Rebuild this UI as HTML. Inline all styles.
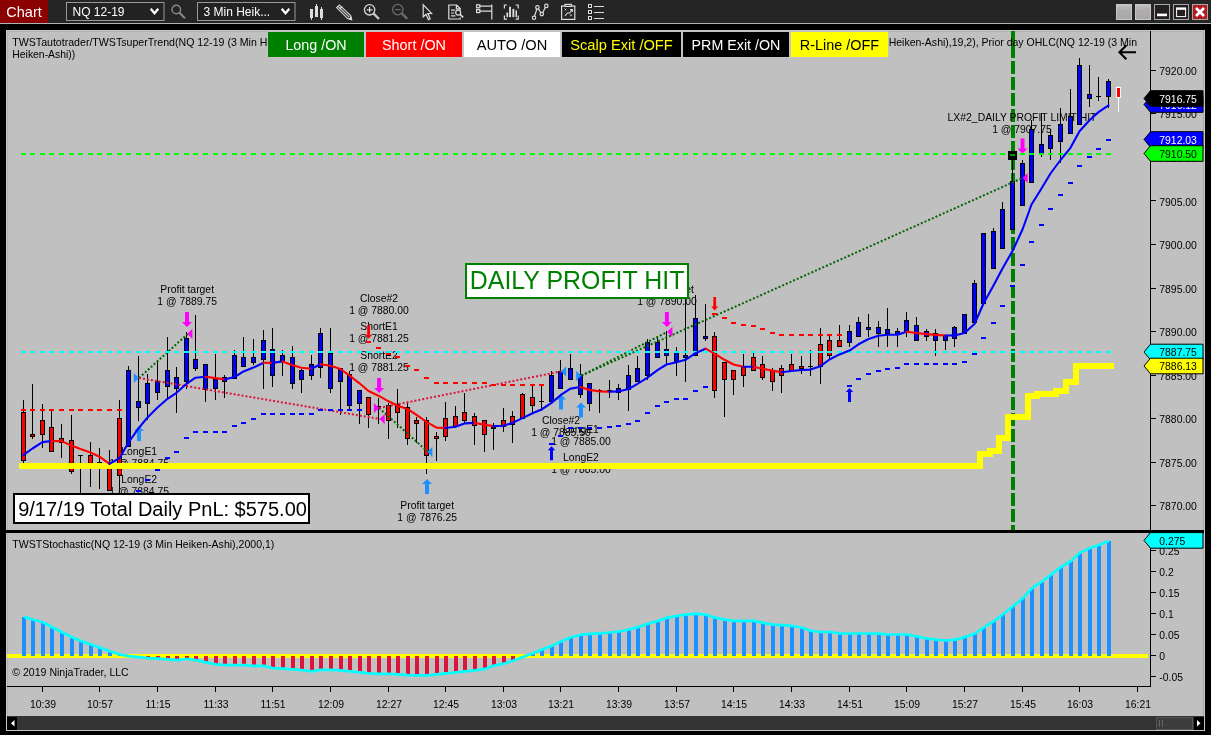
<!DOCTYPE html><html><head><meta charset="utf-8"><title>Chart</title>
<style>html,body{margin:0;padding:0;background:#000;}body{width:1211px;height:735px;overflow:hidden;font-family:"Liberation Sans",sans-serif;}svg{display:block;position:absolute;left:0;top:0;will-change:transform}text{font-family:"Liberation Sans",sans-serif;}</style></head><body>
<svg width="1211" height="735" viewBox="0 0 1211 735">
<rect x="0" y="0" width="1211" height="735" fill="#000"/>
<g shape-rendering="crispEdges">
<rect x="0" y="0" width="1211" height="23" fill="#252525"/>
<rect x="0" y="23" width="1211" height="1" fill="#b0b4b4"/>
<rect x="0" y="0" width="48" height="23" fill="#8b0000"/>
</g>
<text x="6.3" y="17" font-size="14.5" fill="#fff">Chart</text>
<rect x="66.5" y="2.5" width="97.5" height="18" fill="#222" stroke="#999" stroke-width="1"/>
<text x="72.5" y="16" font-size="12" fill="#fff">NQ 12-19</text>
<path d="M150.7 8.8 L154.5 13.3 L158.3 8.8" fill="none" stroke="#fff" stroke-width="2.2"/>
<rect x="197.5" y="2.5" width="97.5" height="18" fill="#222" stroke="#999" stroke-width="1"/>
<text x="203.5" y="16" font-size="12" fill="#fff">3 Min Heik...</text>
<path d="M281.7 8.8 L285.5 13.3 L289.3 8.8" fill="none" stroke="#fff" stroke-width="2.2"/>
<g fill="none" stroke="#8a8a8a" stroke-width="1.4"><circle cx="176.3" cy="9.5" r="4.3"/><path d="M179.5 12.7 L185 18.4" stroke-width="2"/></g>
<g fill="#dcdcdc" shape-rendering="crispEdges">
<rect x="310" y="9" width="3" height="9"/><rect x="311" y="18" width="1" height="2"/>
<rect x="315" y="6" width="3" height="11"/><rect x="316" y="4" width="1" height="2"/>
<rect x="320" y="9" width="3" height="9"/><rect x="321" y="7" width="1" height="2"/><rect x="321" y="18" width="1" height="2"/>
</g>
<g fill="none" stroke="#dcdcdc" stroke-width="1.1"><path d="M336.6 7.6 L339.4 4.9 L350.6 15.6 L351.6 19.6 L347.6 18.6 Z"/><path d="M338 6.3 L349.2 17.2 M339.5 9 L342.2 6.5"/><path d="M349.2 18.9 L351.6 19.6 L351 17.2 Z" fill="#dcdcdc"/></g>
<g fill="none" stroke="#dcdcdc" stroke-width="1.3"><circle cx="369.6" cy="9.8" r="5.2"/><path d="M366.8 9.8 H372.4 M369.6 7 V12.6" stroke-width="1.2"/><path d="M373.6 13.6 L379 19" stroke-width="2.4" stroke="#c8c8c8"/></g>
<g fill="none" stroke="#6a6a6a" stroke-width="1.3"><circle cx="397.8" cy="9.6" r="5.2"/><path d="M395 9.6 H400.6" stroke-width="1.2"/><path d="M401.8 13.4 L407.2 18.8" stroke-width="2.4"/></g>
<path d="M423.2 4.8 L423.2 16.8 L426 14.2 L428.4 19.6 L430.2 18.8 L427.8 13.6 L431.6 13.4 Z" fill="#222" stroke="#dcdcdc" stroke-width="1.2" stroke-linejoin="miter"/>
<g fill="none" stroke="#dcdcdc" stroke-width="1.2"><path d="M460.2 10 V8.6 L456.6 5 H448.8 V19 H460.2 V17.4 M456.4 5.2 V8.8 H460"/><path d="M451 10.2 H455 M451 13 H454.2 M451 15.8 H455.4"/><circle cx="458.2" cy="12.6" r="2.5"/><path d="M460 14.4 L463.2 17.4" stroke-width="1.6"/></g>
<g fill="none" stroke="#dcdcdc" stroke-width="1.2"><rect x="476.6" y="4.8" width="3.2" height="3"/><rect x="476.6" y="9.6" width="3.2" height="3"/><path d="M479.8 6.2 H491.8 M479.8 11.2 H491.8 M491.8 4.6 V19.6"/></g>
<g fill="none" stroke="#dcdcdc" stroke-width="1.2"><path d="M507 5 H504.4 V8.6 M504.4 15.6 V19.2 H507 M515.6 5 H518.2 V8.6 M518.2 15.6 V19.2 H515.6"/></g>
<g fill="#dcdcdc"><rect x="506.4" y="12.5" width="1.7" height="4.6"/><rect x="509.1" y="6.7" width="1.9" height="10.4"/><rect x="512.4" y="8.9" width="1.9" height="8.2"/><rect x="515.5" y="10.4" width="1.5" height="6.7"/></g>
<g fill="#222" stroke="#dcdcdc" stroke-width="1.2"><path d="M534 17.8 L537.4 7.4 L541.8 14.1 L546.3 5.9" fill="none"/><circle cx="534" cy="17.8" r="1.7"/><circle cx="537.4" cy="7.4" r="1.7"/><circle cx="541.8" cy="14.1" r="1.7"/><circle cx="546.3" cy="5.9" r="1.7"/></g>
<g fill="none" stroke="#dcdcdc" stroke-width="1.2"><rect x="561.6" y="6" width="13.2" height="13.4"/><rect x="565" y="4.4" width="6.4" height="2" fill="#222"/><path d="M565 16 L567.4 13 H569.6 L572 10 M570 9.6 H572.4 V12" stroke-width="1.1"/><path d="M564.6 8.6 L566.4 10.4 M566.4 8.6 L564.6 10.4 M570 14.4 L571.8 16.2 M571.8 14.4 L570 16.2" stroke-width="0.8"/></g>
<g fill="none" stroke="#dcdcdc" stroke-width="1" shape-rendering="crispEdges"><rect x="588.5" y="4.5" width="3" height="3"/><rect x="588.5" y="10.5" width="3" height="3"/><rect x="588.5" y="16.5" width="3" height="3"/></g>
<g fill="#dcdcdc" shape-rendering="crispEdges"><rect x="594" y="6" width="10.4" height="1"/><rect x="594" y="12" width="10.4" height="1"/><rect x="594" y="18" width="10.4" height="1"/></g>
<defs><linearGradient id="gb" x1="0" y1="0" x2="0" y2="1"><stop offset="0" stop-color="#c4c2c2"/><stop offset="0.35" stop-color="#aeacac"/><stop offset="1" stop-color="#aaa8a8"/></linearGradient></defs>
<rect x="1116.5" y="4.5" width="15" height="15" fill="url(#gb)" stroke="#c6c6c6"/>
<rect x="1135.5" y="4.5" width="15" height="15" fill="url(#gb)" stroke="#c6c6c6"/>
<rect x="1154.5" y="4.5" width="15" height="15" fill="#231f20" stroke="#a8a8a8"/><rect x="1157" y="13.6" width="10" height="2.6" fill="#fff"/>
<rect x="1173.5" y="4.5" width="15" height="15" fill="#231f20" stroke="#a8a8a8"/><rect x="1176.6" y="8.6" width="9" height="8" fill="none" stroke="#fff" stroke-width="1"/><rect x="1176.1" y="7.4" width="10" height="2.4" fill="#fff"/>
<rect x="1192.5" y="4.5" width="15" height="15" fill="#b01c22" stroke="#a8a8a8"/><path d="M1196 8 L1204 16 M1204 8 L1196 16" stroke="#fff" stroke-width="2.8"/>
<g shape-rendering="crispEdges">
<rect x="6" y="30" width="1199" height="701" fill="#c0c0c0"/>
<rect x="6" y="30" width="1199" height="1" fill="#c4c4c4"/><rect x="7" y="31" width="1197" height="1" fill="#b2b2b2"/>
<rect x="6" y="30" width="1" height="701" fill="#cacaca"/><rect x="7" y="31" width="1" height="699" fill="#b0b0b0"/>
<rect x="1203" y="31" width="1" height="699" fill="#aaaaaa"/><rect x="1204" y="30" width="1" height="701" fill="#c8c8c8"/>
<rect x="6" y="730" width="1199" height="1" fill="#c8c8c8"/>
<rect x="6" y="530" width="1198" height="3" fill="#000"/>
</g>
<g shape-rendering="crispEdges"><rect x="1011" y="31" width="4" height="27" fill="#008000"/>
<rect x="1011" y="61.2" width="4" height="12.5" fill="#008000"/>
<rect x="1011" y="77.2" width="4" height="12.5" fill="#008000"/>
<rect x="1011" y="93.2" width="4" height="12.5" fill="#008000"/>
<rect x="1011" y="109.2" width="4" height="12.5" fill="#008000"/>
<rect x="1011" y="125.2" width="4" height="12.5" fill="#008000"/>
<rect x="1011" y="141.2" width="4" height="12.5" fill="#008000"/>
<rect x="1011" y="157.2" width="4" height="12.5" fill="#008000"/>
<rect x="1011" y="173.2" width="4" height="12.5" fill="#008000"/>
<rect x="1011" y="189.2" width="4" height="12.5" fill="#008000"/>
<rect x="1011" y="205.2" width="4" height="12.5" fill="#008000"/>
<rect x="1011" y="221.2" width="4" height="12.5" fill="#008000"/>
<rect x="1011" y="237.2" width="4" height="12.5" fill="#008000"/>
<rect x="1011" y="253.2" width="4" height="12.5" fill="#008000"/>
<rect x="1011" y="269.2" width="4" height="12.5" fill="#008000"/>
<rect x="1011" y="285.2" width="4" height="12.5" fill="#008000"/>
<rect x="1011" y="301.2" width="4" height="12.5" fill="#008000"/>
<rect x="1011" y="317.2" width="4" height="12.5" fill="#008000"/>
<rect x="1011" y="333.2" width="4" height="12.5" fill="#008000"/>
<rect x="1011" y="349.2" width="4" height="12.5" fill="#008000"/>
<rect x="1011" y="365.2" width="4" height="12.5" fill="#008000"/>
<rect x="1011" y="381.2" width="4" height="12.5" fill="#008000"/>
<rect x="1011" y="397.2" width="4" height="12.5" fill="#008000"/>
<rect x="1011" y="413.2" width="4" height="12.5" fill="#008000"/>
<rect x="1011" y="429.2" width="4" height="12.5" fill="#008000"/>
<rect x="1011" y="445.2" width="4" height="12.5" fill="#008000"/>
<rect x="1011" y="461.2" width="4" height="12.5" fill="#008000"/>
<rect x="1011" y="477.2" width="4" height="12.5" fill="#008000"/>
<rect x="1011" y="493.2" width="4" height="12.5" fill="#008000"/>
<rect x="1011" y="509.2" width="4" height="12.5" fill="#008000"/>
<rect x="1011" y="525.2" width="4" height="4.8" fill="#008000"/>
</g>
<text x="12.3" y="46.3" font-size="10.6" fill="#000">TWSTautotrader/TWSTsuperTrend(NQ 12-19 (3 Min Heiken-Ashi),19,2)</text>
<text x="1137" y="46.3" font-size="10.53" text-anchor="end" fill="#000">Heiken-Ashi),19,2), Prior day OHLC(NQ 12-19 (3 Min</text>
<text x="12.3" y="58.2" font-size="10.4" fill="#000">Heiken-Ashi))</text>
<text x="187.2" y="292.8" font-size="10.4" text-anchor="middle" fill="#000">Profit target</text>
<text x="187.2" y="304.7" font-size="10.4" text-anchor="middle" fill="#000">1 @ 7889.75</text>
<text x="379" y="301.8" font-size="10.4" text-anchor="middle" fill="#000">Close#2</text>
<text x="379" y="313.7" font-size="10.4" text-anchor="middle" fill="#000">1 @ 7880.00</text>
<text x="379" y="329.6" font-size="10.4" text-anchor="middle" fill="#000">ShortE1</text>
<text x="379" y="341.5" font-size="10.4" text-anchor="middle" fill="#000">1 @ 7881.25</text>
<text x="379" y="358.7" font-size="10.4" text-anchor="middle" fill="#000">ShortE2</text>
<text x="379" y="370.6" font-size="10.4" text-anchor="middle" fill="#000">1 @ 7881.25</text>
<text x="139.2" y="455.4" font-size="10.4" text-anchor="middle" fill="#000">LongE1</text>
<text x="139.2" y="467.3" font-size="10.4" text-anchor="middle" fill="#000">1 @ 7884.75</text>
<text x="139.2" y="483.4" font-size="10.4" text-anchor="middle" fill="#000">LongE2</text>
<text x="139.2" y="495.3" font-size="10.4" text-anchor="middle" fill="#000">1 @ 7884.75</text>
<text x="427.2" y="508.6" font-size="10.4" text-anchor="middle" fill="#000">Profit target</text>
<text x="427.2" y="520.5" font-size="10.4" text-anchor="middle" fill="#000">1 @ 7876.25</text>
<text x="561" y="424.4" font-size="10.4" text-anchor="middle" fill="#000">Close#2</text>
<text x="561" y="436.3" font-size="10.4" text-anchor="middle" fill="#000">1 @ 7885.50</text>
<text x="581" y="432.6" font-size="10.4" text-anchor="middle" fill="#000">LongE1</text>
<text x="581" y="444.5" font-size="10.4" text-anchor="middle" fill="#000">1 @ 7885.00</text>
<text x="581" y="461" font-size="10.4" text-anchor="middle" fill="#000">LongE2</text>
<text x="581" y="472.9" font-size="10.4" text-anchor="middle" fill="#000">1 @ 7885.00</text>
<text x="667" y="293.2" font-size="10.4" text-anchor="middle" fill="#000">Profit target</text>
<text x="667" y="305.1" font-size="10.4" text-anchor="middle" fill="#000">1 @ 7890.00</text>
<text x="1022" y="121.2" font-size="10.4" text-anchor="middle" fill="#000">LX#2_DAILY PROFIT LIMIT HIT</text>
<text x="1022" y="133.1" font-size="10.4" text-anchor="middle" fill="#000">1 @ 7907.75</text>
<g shape-rendering="crispEdges">
<rect x="23" y="400" width="1" height="63" fill="#000"/>
<rect x="21" y="412" width="5" height="49" fill="#000"/>
<rect x="22" y="413" width="3" height="47" fill="#ff0000"/>
<rect x="32" y="384" width="1" height="55" fill="#000"/>
<rect x="30" y="434" width="5" height="3" fill="#000"/>
<rect x="31" y="435" width="3" height="1" fill="#ff0000"/>
<rect x="42" y="404" width="1" height="44" fill="#000"/>
<rect x="40" y="420" width="5" height="15" fill="#000"/>
<rect x="41" y="421" width="3" height="13" fill="#ff0000"/>
<rect x="51" y="410" width="1" height="42" fill="#000"/>
<rect x="49" y="427" width="5" height="25" fill="#000"/>
<rect x="50" y="428" width="3" height="23" fill="#ff0000"/>
<rect x="61" y="424" width="1" height="34" fill="#000"/>
<rect x="59" y="438" width="5" height="5" fill="#000"/>
<rect x="60" y="439" width="3" height="3" fill="#ff0000"/>
<rect x="71" y="415" width="1" height="59" fill="#000"/>
<rect x="69" y="440" width="5" height="32" fill="#000"/>
<rect x="70" y="441" width="3" height="30" fill="#ff0000"/>
<rect x="80" y="455" width="1" height="42" fill="#000"/>
<rect x="78" y="455" width="5" height="1" fill="#000"/>
<rect x="90" y="442" width="1" height="45" fill="#000"/>
<rect x="88" y="455" width="5" height="11" fill="#000"/>
<rect x="89" y="456" width="3" height="9" fill="#ff0000"/>
<rect x="99" y="448" width="1" height="41" fill="#000"/>
<rect x="97" y="462" width="5" height="2" fill="#000"/>
<rect x="109" y="450" width="1" height="41" fill="#000"/>
<rect x="107" y="463" width="5" height="28" fill="#000"/>
<rect x="108" y="464" width="3" height="26" fill="#ff0000"/>
<rect x="119" y="400" width="1" height="95" fill="#000"/>
<rect x="117" y="418" width="5" height="58" fill="#000"/>
<rect x="118" y="419" width="3" height="56" fill="#ff0000"/>
<rect x="128" y="366" width="1" height="81" fill="#000"/>
<rect x="126" y="370" width="5" height="77" fill="#000"/>
<rect x="127" y="371" width="3" height="75" fill="#0000ff"/>
<rect x="138" y="356" width="1" height="65" fill="#000"/>
<rect x="136" y="401" width="5" height="7" fill="#000"/>
<rect x="137" y="402" width="3" height="5" fill="#0000ff"/>
<rect x="147" y="374" width="1" height="46" fill="#000"/>
<rect x="145" y="383" width="5" height="21" fill="#000"/>
<rect x="146" y="384" width="3" height="19" fill="#0000ff"/>
<rect x="157" y="360" width="1" height="40" fill="#000"/>
<rect x="155" y="381" width="5" height="12" fill="#000"/>
<rect x="156" y="382" width="3" height="10" fill="#0000ff"/>
<rect x="167" y="337" width="1" height="62" fill="#000"/>
<rect x="165" y="370" width="5" height="17" fill="#000"/>
<rect x="166" y="371" width="3" height="15" fill="#0000ff"/>
<rect x="176" y="367" width="1" height="46" fill="#000"/>
<rect x="174" y="377" width="5" height="12" fill="#000"/>
<rect x="175" y="378" width="3" height="10" fill="#0000ff"/>
<rect x="186" y="332" width="1" height="57" fill="#000"/>
<rect x="184" y="338" width="5" height="44" fill="#000"/>
<rect x="185" y="339" width="3" height="42" fill="#0000ff"/>
<rect x="195" y="315" width="1" height="56" fill="#000"/>
<rect x="193" y="359" width="5" height="10" fill="#000"/>
<rect x="194" y="360" width="3" height="8" fill="#0000ff"/>
<rect x="205" y="364" width="1" height="38" fill="#000"/>
<rect x="203" y="364" width="5" height="26" fill="#000"/>
<rect x="204" y="365" width="3" height="24" fill="#0000ff"/>
<rect x="215" y="354" width="1" height="46" fill="#000"/>
<rect x="213" y="379" width="5" height="10" fill="#000"/>
<rect x="214" y="380" width="3" height="8" fill="#0000ff"/>
<rect x="224" y="375" width="1" height="23" fill="#000"/>
<rect x="222" y="377" width="5" height="5" fill="#000"/>
<rect x="223" y="378" width="3" height="3" fill="#0000ff"/>
<rect x="234" y="350" width="1" height="29" fill="#000"/>
<rect x="232" y="355" width="5" height="24" fill="#000"/>
<rect x="233" y="356" width="3" height="22" fill="#0000ff"/>
<rect x="243" y="337" width="1" height="30" fill="#000"/>
<rect x="241" y="357" width="5" height="10" fill="#000"/>
<rect x="242" y="358" width="3" height="8" fill="#0000ff"/>
<rect x="253" y="339" width="1" height="26" fill="#000"/>
<rect x="251" y="357" width="5" height="6" fill="#000"/>
<rect x="252" y="358" width="3" height="4" fill="#0000ff"/>
<rect x="263" y="330" width="1" height="59" fill="#000"/>
<rect x="261" y="340" width="5" height="20" fill="#000"/>
<rect x="262" y="341" width="3" height="18" fill="#0000ff"/>
<rect x="272" y="328" width="1" height="59" fill="#000"/>
<rect x="270" y="349" width="5" height="27" fill="#000"/>
<rect x="271" y="350" width="3" height="25" fill="#0000ff"/>
<rect x="282" y="350" width="1" height="26" fill="#000"/>
<rect x="280" y="355" width="5" height="7" fill="#000"/>
<rect x="281" y="356" width="3" height="5" fill="#0000ff"/>
<rect x="292" y="346" width="1" height="43" fill="#000"/>
<rect x="290" y="357" width="5" height="27" fill="#000"/>
<rect x="291" y="358" width="3" height="25" fill="#0000ff"/>
<rect x="301" y="369" width="1" height="24" fill="#000"/>
<rect x="299" y="370" width="5" height="10" fill="#000"/>
<rect x="300" y="371" width="3" height="8" fill="#0000ff"/>
<rect x="311" y="355" width="1" height="25" fill="#000"/>
<rect x="309" y="364" width="5" height="12" fill="#000"/>
<rect x="310" y="365" width="3" height="10" fill="#0000ff"/>
<rect x="320" y="328" width="1" height="50" fill="#000"/>
<rect x="318" y="333" width="5" height="35" fill="#000"/>
<rect x="319" y="334" width="3" height="33" fill="#0000ff"/>
<rect x="330" y="328" width="1" height="65" fill="#000"/>
<rect x="328" y="353" width="5" height="36" fill="#000"/>
<rect x="329" y="354" width="3" height="34" fill="#0000ff"/>
<rect x="340" y="368" width="1" height="47" fill="#000"/>
<rect x="338" y="368" width="5" height="14" fill="#000"/>
<rect x="339" y="369" width="3" height="12" fill="#0000ff"/>
<rect x="349" y="371" width="1" height="38" fill="#000"/>
<rect x="347" y="374" width="5" height="32" fill="#000"/>
<rect x="348" y="375" width="3" height="30" fill="#0000ff"/>
<rect x="359" y="390" width="1" height="34" fill="#000"/>
<rect x="357" y="390" width="5" height="14" fill="#000"/>
<rect x="358" y="391" width="3" height="12" fill="#0000ff"/>
<rect x="368" y="397" width="1" height="31" fill="#000"/>
<rect x="366" y="397" width="5" height="18" fill="#000"/>
<rect x="367" y="398" width="3" height="16" fill="#ff0000"/>
<rect x="378" y="398" width="1" height="26" fill="#000"/>
<rect x="376" y="406" width="5" height="1" fill="#000"/>
<rect x="388" y="403" width="1" height="36" fill="#000"/>
<rect x="386" y="405" width="5" height="16" fill="#000"/>
<rect x="387" y="406" width="3" height="14" fill="#ff0000"/>
<rect x="397" y="389" width="1" height="39" fill="#000"/>
<rect x="395" y="404" width="5" height="9" fill="#000"/>
<rect x="396" y="405" width="3" height="7" fill="#ff0000"/>
<rect x="407" y="402" width="1" height="43" fill="#000"/>
<rect x="405" y="407" width="5" height="32" fill="#000"/>
<rect x="406" y="408" width="3" height="30" fill="#ff0000"/>
<rect x="416" y="417" width="1" height="26" fill="#000"/>
<rect x="414" y="420" width="5" height="4" fill="#000"/>
<rect x="415" y="421" width="3" height="2" fill="#ff0000"/>
<rect x="426" y="417" width="1" height="57" fill="#000"/>
<rect x="424" y="420" width="5" height="36" fill="#000"/>
<rect x="425" y="421" width="3" height="34" fill="#ff0000"/>
<rect x="436" y="432" width="1" height="29" fill="#000"/>
<rect x="434" y="436" width="5" height="3" fill="#000"/>
<rect x="435" y="437" width="3" height="1" fill="#ff0000"/>
<rect x="445" y="402" width="1" height="39" fill="#000"/>
<rect x="443" y="418" width="5" height="19" fill="#000"/>
<rect x="444" y="419" width="3" height="17" fill="#ff0000"/>
<rect x="455" y="406" width="1" height="22" fill="#000"/>
<rect x="453" y="416" width="5" height="11" fill="#000"/>
<rect x="454" y="417" width="3" height="9" fill="#ff0000"/>
<rect x="464" y="393" width="1" height="31" fill="#000"/>
<rect x="462" y="412" width="5" height="9" fill="#000"/>
<rect x="463" y="413" width="3" height="7" fill="#ff0000"/>
<rect x="474" y="413" width="1" height="32" fill="#000"/>
<rect x="472" y="416" width="5" height="10" fill="#000"/>
<rect x="473" y="417" width="3" height="8" fill="#ff0000"/>
<rect x="484" y="420" width="1" height="32" fill="#000"/>
<rect x="482" y="420" width="5" height="15" fill="#000"/>
<rect x="483" y="421" width="3" height="13" fill="#ff0000"/>
<rect x="493" y="423" width="1" height="27" fill="#000"/>
<rect x="491" y="427" width="5" height="2" fill="#000"/>
<rect x="503" y="408" width="1" height="24" fill="#000"/>
<rect x="501" y="420" width="5" height="7" fill="#000"/>
<rect x="502" y="421" width="3" height="5" fill="#ff0000"/>
<rect x="512" y="411" width="1" height="32" fill="#000"/>
<rect x="510" y="416" width="5" height="9" fill="#000"/>
<rect x="511" y="417" width="3" height="7" fill="#ff0000"/>
<rect x="522" y="393" width="1" height="26" fill="#000"/>
<rect x="520" y="394" width="5" height="25" fill="#000"/>
<rect x="521" y="395" width="3" height="23" fill="#ff0000"/>
<rect x="532" y="385" width="1" height="29" fill="#000"/>
<rect x="530" y="397" width="5" height="9" fill="#000"/>
<rect x="531" y="398" width="3" height="7" fill="#ff0000"/>
<rect x="541" y="385" width="1" height="26" fill="#000"/>
<rect x="539" y="401" width="5" height="1" fill="#000"/>
<rect x="551" y="371" width="1" height="31" fill="#000"/>
<rect x="549" y="375" width="5" height="27" fill="#000"/>
<rect x="550" y="376" width="3" height="25" fill="#0000ff"/>
<rect x="560" y="360" width="1" height="29" fill="#000"/>
<rect x="558" y="371" width="5" height="18" fill="#000"/>
<rect x="559" y="372" width="3" height="16" fill="#0000ff"/>
<rect x="570" y="354" width="1" height="26" fill="#000"/>
<rect x="568" y="368" width="5" height="12" fill="#000"/>
<rect x="569" y="369" width="3" height="10" fill="#0000ff"/>
<rect x="580" y="364" width="1" height="34" fill="#000"/>
<rect x="578" y="374" width="5" height="21" fill="#000"/>
<rect x="579" y="375" width="3" height="19" fill="#0000ff"/>
<rect x="589" y="383" width="1" height="28" fill="#000"/>
<rect x="587" y="383" width="5" height="21" fill="#000"/>
<rect x="588" y="384" width="3" height="19" fill="#0000ff"/>
<rect x="599" y="389" width="1" height="24" fill="#000"/>
<rect x="597" y="390" width="5" height="1" fill="#000"/>
<rect x="609" y="380" width="1" height="18" fill="#000"/>
<rect x="607" y="390" width="5" height="1" fill="#000"/>
<rect x="618" y="384" width="1" height="16" fill="#000"/>
<rect x="616" y="388" width="5" height="5" fill="#000"/>
<rect x="617" y="389" width="3" height="3" fill="#0000ff"/>
<rect x="628" y="365" width="1" height="46" fill="#000"/>
<rect x="626" y="375" width="5" height="15" fill="#000"/>
<rect x="627" y="376" width="3" height="13" fill="#0000ff"/>
<rect x="637" y="356" width="1" height="26" fill="#000"/>
<rect x="635" y="368" width="5" height="14" fill="#000"/>
<rect x="636" y="369" width="3" height="12" fill="#0000ff"/>
<rect x="647" y="339" width="1" height="41" fill="#000"/>
<rect x="645" y="342" width="5" height="34" fill="#000"/>
<rect x="646" y="343" width="3" height="32" fill="#0000ff"/>
<rect x="657" y="337" width="1" height="21" fill="#000"/>
<rect x="655" y="342" width="5" height="16" fill="#000"/>
<rect x="656" y="343" width="3" height="14" fill="#0000ff"/>
<rect x="666" y="331" width="1" height="33" fill="#000"/>
<rect x="664" y="349" width="5" height="7" fill="#000"/>
<rect x="665" y="350" width="3" height="5" fill="#0000ff"/>
<rect x="676" y="347" width="1" height="29" fill="#000"/>
<rect x="674" y="352" width="5" height="10" fill="#000"/>
<rect x="675" y="353" width="3" height="8" fill="#0000ff"/>
<rect x="685" y="295" width="1" height="87" fill="#000"/>
<rect x="683" y="355" width="5" height="3" fill="#000"/>
<rect x="684" y="356" width="3" height="1" fill="#0000ff"/>
<rect x="695" y="295" width="1" height="61" fill="#000"/>
<rect x="693" y="318" width="5" height="38" fill="#000"/>
<rect x="694" y="319" width="3" height="36" fill="#0000ff"/>
<rect x="705" y="304" width="1" height="37" fill="#000"/>
<rect x="703" y="336" width="5" height="3" fill="#000"/>
<rect x="704" y="337" width="3" height="1" fill="#0000ff"/>
<rect x="714" y="332" width="1" height="66" fill="#000"/>
<rect x="712" y="336" width="5" height="55" fill="#000"/>
<rect x="713" y="337" width="3" height="53" fill="#ff0000"/>
<rect x="724" y="362" width="1" height="55" fill="#000"/>
<rect x="722" y="362" width="5" height="18" fill="#000"/>
<rect x="723" y="363" width="3" height="16" fill="#ff0000"/>
<rect x="733" y="370" width="1" height="25" fill="#000"/>
<rect x="731" y="370" width="5" height="10" fill="#000"/>
<rect x="732" y="371" width="3" height="8" fill="#ff0000"/>
<rect x="743" y="354" width="1" height="33" fill="#000"/>
<rect x="741" y="366" width="5" height="10" fill="#000"/>
<rect x="742" y="367" width="3" height="8" fill="#ff0000"/>
<rect x="753" y="353" width="1" height="18" fill="#000"/>
<rect x="751" y="357" width="5" height="14" fill="#000"/>
<rect x="752" y="358" width="3" height="12" fill="#ff0000"/>
<rect x="762" y="356" width="1" height="24" fill="#000"/>
<rect x="760" y="364" width="5" height="14" fill="#000"/>
<rect x="761" y="365" width="3" height="12" fill="#ff0000"/>
<rect x="772" y="368" width="1" height="23" fill="#000"/>
<rect x="770" y="370" width="5" height="12" fill="#000"/>
<rect x="771" y="371" width="3" height="10" fill="#ff0000"/>
<rect x="781" y="365" width="1" height="28" fill="#000"/>
<rect x="779" y="368" width="5" height="8" fill="#000"/>
<rect x="780" y="369" width="3" height="6" fill="#ff0000"/>
<rect x="791" y="354" width="1" height="17" fill="#000"/>
<rect x="789" y="364" width="5" height="7" fill="#000"/>
<rect x="790" y="365" width="3" height="5" fill="#ff0000"/>
<rect x="801" y="356" width="1" height="18" fill="#000"/>
<rect x="799" y="366" width="5" height="3" fill="#000"/>
<rect x="800" y="367" width="3" height="1" fill="#ff0000"/>
<rect x="810" y="350" width="1" height="26" fill="#000"/>
<rect x="808" y="366" width="5" height="1" fill="#000"/>
<rect x="820" y="328" width="1" height="56" fill="#000"/>
<rect x="818" y="344" width="5" height="23" fill="#000"/>
<rect x="819" y="345" width="3" height="21" fill="#ff0000"/>
<rect x="829" y="335" width="1" height="24" fill="#000"/>
<rect x="827" y="340" width="5" height="16" fill="#000"/>
<rect x="828" y="341" width="3" height="14" fill="#ff0000"/>
<rect x="839" y="325" width="1" height="22" fill="#000"/>
<rect x="837" y="340" width="5" height="7" fill="#000"/>
<rect x="838" y="341" width="3" height="5" fill="#ff0000"/>
<rect x="849" y="325" width="1" height="22" fill="#000"/>
<rect x="847" y="331" width="5" height="12" fill="#000"/>
<rect x="848" y="332" width="3" height="10" fill="#0000ff"/>
<rect x="858" y="317" width="1" height="20" fill="#000"/>
<rect x="856" y="322" width="5" height="15" fill="#000"/>
<rect x="857" y="323" width="3" height="13" fill="#0000ff"/>
<rect x="868" y="314" width="1" height="23" fill="#000"/>
<rect x="866" y="327" width="5" height="3" fill="#000"/>
<rect x="867" y="328" width="3" height="1" fill="#0000ff"/>
<rect x="878" y="321" width="1" height="26" fill="#000"/>
<rect x="876" y="327" width="5" height="7" fill="#000"/>
<rect x="877" y="328" width="3" height="5" fill="#0000ff"/>
<rect x="887" y="308" width="1" height="39" fill="#000"/>
<rect x="885" y="329" width="5" height="5" fill="#000"/>
<rect x="886" y="330" width="3" height="3" fill="#0000ff"/>
<rect x="897" y="328" width="1" height="19" fill="#000"/>
<rect x="895" y="331" width="5" height="4" fill="#000"/>
<rect x="896" y="332" width="3" height="2" fill="#0000ff"/>
<rect x="906" y="312" width="1" height="25" fill="#000"/>
<rect x="904" y="320" width="5" height="12" fill="#000"/>
<rect x="905" y="321" width="3" height="10" fill="#0000ff"/>
<rect x="916" y="317" width="1" height="24" fill="#000"/>
<rect x="914" y="325" width="5" height="16" fill="#000"/>
<rect x="915" y="326" width="3" height="14" fill="#0000ff"/>
<rect x="926" y="329" width="1" height="12" fill="#000"/>
<rect x="924" y="331" width="5" height="6" fill="#000"/>
<rect x="925" y="332" width="3" height="4" fill="#0000ff"/>
<rect x="935" y="329" width="1" height="27" fill="#000"/>
<rect x="933" y="333" width="5" height="8" fill="#000"/>
<rect x="934" y="334" width="3" height="6" fill="#0000ff"/>
<rect x="945" y="335" width="1" height="15" fill="#000"/>
<rect x="943" y="335" width="5" height="6" fill="#000"/>
<rect x="944" y="336" width="3" height="4" fill="#0000ff"/>
<rect x="954" y="326" width="1" height="21" fill="#000"/>
<rect x="952" y="327" width="5" height="12" fill="#000"/>
<rect x="953" y="328" width="3" height="10" fill="#0000ff"/>
<rect x="964" y="314" width="1" height="20" fill="#000"/>
<rect x="962" y="314" width="5" height="20" fill="#000"/>
<rect x="963" y="315" width="3" height="18" fill="#0000ff"/>
<rect x="974" y="280" width="1" height="43" fill="#000"/>
<rect x="972" y="283" width="5" height="40" fill="#000"/>
<rect x="973" y="284" width="3" height="38" fill="#0000ff"/>
<rect x="983" y="233" width="1" height="71" fill="#000"/>
<rect x="981" y="233" width="5" height="71" fill="#000"/>
<rect x="982" y="234" width="3" height="69" fill="#0000ff"/>
<rect x="993" y="228" width="1" height="41" fill="#000"/>
<rect x="991" y="231" width="5" height="38" fill="#000"/>
<rect x="992" y="232" width="3" height="36" fill="#0000ff"/>
<rect x="1002" y="202" width="1" height="47" fill="#000"/>
<rect x="1000" y="209" width="5" height="40" fill="#000"/>
<rect x="1001" y="210" width="3" height="38" fill="#0000ff"/>
<rect x="1012" y="160" width="1" height="70" fill="#000"/>
<rect x="1010" y="181" width="5" height="49" fill="#000"/>
<rect x="1011" y="182" width="3" height="47" fill="#0000ff"/>
<rect x="1022" y="160" width="1" height="46" fill="#000"/>
<rect x="1020" y="163" width="5" height="43" fill="#000"/>
<rect x="1021" y="164" width="3" height="41" fill="#0000ff"/>
<rect x="1031" y="120" width="1" height="63" fill="#000"/>
<rect x="1029" y="129" width="5" height="54" fill="#000"/>
<rect x="1030" y="130" width="3" height="52" fill="#0000ff"/>
<rect x="1041" y="113" width="1" height="44" fill="#000"/>
<rect x="1039" y="144" width="5" height="11" fill="#000"/>
<rect x="1040" y="145" width="3" height="9" fill="#0000ff"/>
<rect x="1050" y="129" width="1" height="31" fill="#000"/>
<rect x="1048" y="135" width="5" height="14" fill="#000"/>
<rect x="1049" y="136" width="3" height="12" fill="#0000ff"/>
<rect x="1060" y="108" width="1" height="55" fill="#000"/>
<rect x="1058" y="124" width="5" height="18" fill="#000"/>
<rect x="1059" y="125" width="3" height="16" fill="#0000ff"/>
<rect x="1070" y="89" width="1" height="45" fill="#000"/>
<rect x="1068" y="116" width="5" height="18" fill="#000"/>
<rect x="1069" y="117" width="3" height="16" fill="#0000ff"/>
<rect x="1079" y="58" width="1" height="67" fill="#000"/>
<rect x="1077" y="65" width="5" height="60" fill="#000"/>
<rect x="1078" y="66" width="3" height="58" fill="#0000ff"/>
<rect x="1089" y="65" width="1" height="42" fill="#000"/>
<rect x="1087" y="94" width="5" height="5" fill="#000"/>
<rect x="1088" y="95" width="3" height="3" fill="#0000ff"/>
<rect x="1098" y="77" width="1" height="24" fill="#000"/>
<rect x="1096" y="96" width="5" height="1" fill="#000"/>
<rect x="1108" y="79" width="1" height="29" fill="#000"/>
<rect x="1106" y="81" width="5" height="16" fill="#000"/>
<rect x="1107" y="82" width="3" height="14" fill="#0000ff"/>
<rect x="1118" y="86" width="1" height="26" fill="#fff"/>
<rect x="1116" y="87" width="5" height="11" fill="#fff"/>
<rect x="1117" y="88" width="3" height="9" fill="#ff0000"/>
</g>
<line x1="139" y1="378" x2="187.6" y2="334" stroke="#006400" stroke-width="2" stroke-dasharray="2 2"/>
<line x1="139" y1="378" x2="380" y2="419" stroke="#dc143c" stroke-width="2" stroke-dasharray="2 2"/>
<line x1="379.1" y1="408" x2="428" y2="452" stroke="#006400" stroke-width="2" stroke-dasharray="2 2"/>
<line x1="379.1" y1="408" x2="561" y2="371.4" stroke="#dc143c" stroke-width="2" stroke-dasharray="2 2"/>
<line x1="581.4" y1="375.6" x2="667.2" y2="332" stroke="#006400" stroke-width="2" stroke-dasharray="2 2"/>
<line x1="581.4" y1="375.6" x2="1022.5" y2="178" stroke="#006400" stroke-width="2" stroke-dasharray="2 2"/>
<path d="M185 312 H189 V322 H192 L187 327 L182 322 H185 Z" fill="#ff00ff"/>
<path d="M187.2 333.8 L192.4 328.7 L192.4 338.9 Z" fill="#ff00ff"/>
<path d="M139 378 L133.8 372.9 L133.8 383.1 Z" fill="#1e90ff"/>
<path d="M137 441 H141 V431 H144 L139 426 L134 431 H137 Z" fill="#1e90ff"/>
<path d="M367.2 325.2 H370 V334.7 H372.1 L368.6 338.7 L365.1 334.7 H367.2 Z" fill="#ff0000"/>
<path d="M377.1 378 H381.1 V388 H384.1 L379.1 393 L374.1 388 H377.1 Z" fill="#ff00ff"/>
<path d="M379.1 408 L373.9 402.9 L373.9 413.1 Z" fill="#ff00ff"/>
<path d="M379.5 419 L384.7 413.9 L384.7 424.1 Z" fill="#ff00ff"/>
<path d="M427.2 451.8 L432.4 446.7 L432.4 456.9 Z" fill="#1e90ff"/>
<path d="M425 494 H429 V484 H432 L427 479 L422 484 H425 Z" fill="#1e90ff"/>
<path d="M561 371.4 L566.2 366.3 L566.2 376.5 Z" fill="#1e90ff"/>
<path d="M559 409.5 H563 V399.5 H566 L561 394.5 L556 399.5 H559 Z" fill="#1e90ff"/>
<path d="M581.4 375.8 L576.2 370.7 L576.2 380.9 Z" fill="#1e90ff"/>
<path d="M579 417.6 H583 V407.6 H586 L581 402.6 L576 407.6 H579 Z" fill="#1e90ff"/>
<path d="M550 460.3 H553 V450.3 H555.2 L551.5 446.3 L547.8 450.3 H550 Z" fill="#0000ff"/>
<path d="M664.9 312 H668.9 V322 H671.9 L666.9 327 L661.9 322 H664.9 Z" fill="#ff00ff"/>
<path d="M667.2 331.8 L672.4 326.7 L672.4 336.9 Z" fill="#ff00ff"/>
<path d="M713.3 296.9 H716.1 V306.4 H718.2 L714.7 310.4 L711.2 306.4 H713.3 Z" fill="#ff0000"/>
<path d="M848 402 H851 V392 H853.2 L849.5 388 L845.8 392 H848 Z" fill="#0000ff"/>
<path d="M1020.5 138.5 H1024.5 V148.5 H1027.5 L1022.5 153.5 L1017.5 148.5 H1020.5 Z" fill="#ff00ff"/>
<path d="M1022.5 178 L1027.7 172.9 L1027.7 183.1 Z" fill="#ff00ff"/>
<g shape-rendering="crispEdges">
<rect x="21" y="409" width="5" height="2" fill="#ff0000"/>
<rect x="30" y="409" width="5" height="2" fill="#ff0000"/>
<rect x="40" y="409" width="5" height="2" fill="#ff0000"/>
<rect x="49" y="409" width="5" height="2" fill="#ff0000"/>
<rect x="59" y="409" width="5" height="2" fill="#ff0000"/>
<rect x="69" y="409" width="5" height="2" fill="#ff0000"/>
<rect x="78" y="409" width="5" height="2" fill="#ff0000"/>
<rect x="88" y="409" width="5" height="2" fill="#ff0000"/>
<rect x="97" y="409" width="5" height="2" fill="#ff0000"/>
<rect x="107" y="409" width="5" height="2" fill="#ff0000"/>
<rect x="117" y="409" width="5" height="2" fill="#ff0000"/>
<rect x="366" y="340.7" width="5" height="2" fill="#ff0000"/>
<rect x="376" y="347" width="5" height="2" fill="#ff0000"/>
<rect x="386" y="353" width="5" height="2" fill="#ff0000"/>
<rect x="395" y="355.8" width="5" height="2" fill="#ff0000"/>
<rect x="405" y="365" width="5" height="2" fill="#ff0000"/>
<rect x="414" y="369" width="5" height="2" fill="#ff0000"/>
<rect x="424" y="377.1" width="5" height="2" fill="#ff0000"/>
<rect x="434" y="382.2" width="5" height="2" fill="#ff0000"/>
<rect x="443" y="382.2" width="5" height="2" fill="#ff0000"/>
<rect x="453" y="382.2" width="5" height="2" fill="#ff0000"/>
<rect x="462" y="382.2" width="5" height="2" fill="#ff0000"/>
<rect x="472" y="382.2" width="5" height="2" fill="#ff0000"/>
<rect x="482" y="382.2" width="5" height="2" fill="#ff0000"/>
<rect x="491" y="384" width="5" height="2" fill="#ff0000"/>
<rect x="501" y="384" width="5" height="2" fill="#ff0000"/>
<rect x="510" y="384" width="5" height="2" fill="#ff0000"/>
<rect x="520" y="384" width="5" height="2" fill="#ff0000"/>
<rect x="530" y="384" width="5" height="2" fill="#ff0000"/>
<rect x="539" y="384" width="5" height="2" fill="#ff0000"/>
<rect x="712" y="312.7" width="5" height="2" fill="#ff0000"/>
<rect x="722" y="316.9" width="5" height="2" fill="#ff0000"/>
<rect x="731" y="321.6" width="5" height="2" fill="#ff0000"/>
<rect x="741" y="323.9" width="5" height="2" fill="#ff0000"/>
<rect x="751" y="324.9" width="5" height="2" fill="#ff0000"/>
<rect x="760" y="327.9" width="5" height="2" fill="#ff0000"/>
<rect x="770" y="331.9" width="5" height="2" fill="#ff0000"/>
<rect x="779" y="334.1" width="5" height="2" fill="#ff0000"/>
<rect x="789" y="334.1" width="5" height="2" fill="#ff0000"/>
<rect x="799" y="334.1" width="5" height="2" fill="#ff0000"/>
<rect x="808" y="334.1" width="5" height="2" fill="#ff0000"/>
<rect x="818" y="334.1" width="5" height="2" fill="#ff0000"/>
<rect x="827" y="334.1" width="5" height="2" fill="#ff0000"/>
<rect x="837" y="334.1" width="5" height="2" fill="#ff0000"/>
<rect x="136" y="490" width="5" height="2" fill="#0000ff"/>
<rect x="145" y="478.6" width="5" height="2" fill="#0000ff"/>
<rect x="155" y="468.5" width="5" height="2" fill="#0000ff"/>
<rect x="165" y="456.9" width="5" height="2" fill="#0000ff"/>
<rect x="174" y="450.9" width="5" height="2" fill="#0000ff"/>
<rect x="184" y="436.7" width="5" height="2" fill="#0000ff"/>
<rect x="193" y="430.8" width="5" height="2" fill="#0000ff"/>
<rect x="203" y="430.8" width="5" height="2" fill="#0000ff"/>
<rect x="213" y="430.8" width="5" height="2" fill="#0000ff"/>
<rect x="222" y="430.8" width="5" height="2" fill="#0000ff"/>
<rect x="232" y="424.7" width="5" height="2" fill="#0000ff"/>
<rect x="241" y="421.9" width="5" height="2" fill="#0000ff"/>
<rect x="251" y="418" width="5" height="2" fill="#0000ff"/>
<rect x="261" y="412.8" width="5" height="2" fill="#0000ff"/>
<rect x="270" y="412.8" width="5" height="2" fill="#0000ff"/>
<rect x="280" y="412.8" width="5" height="2" fill="#0000ff"/>
<rect x="290" y="412.8" width="5" height="2" fill="#0000ff"/>
<rect x="299" y="412.8" width="5" height="2" fill="#0000ff"/>
<rect x="309" y="412.8" width="5" height="2" fill="#0000ff"/>
<rect x="318" y="408.6" width="5" height="2" fill="#0000ff"/>
<rect x="328" y="408.6" width="5" height="2" fill="#0000ff"/>
<rect x="338" y="408.6" width="5" height="2" fill="#0000ff"/>
<rect x="347" y="408.6" width="5" height="2" fill="#0000ff"/>
<rect x="357" y="408.6" width="5" height="2" fill="#0000ff"/>
<rect x="549" y="442.8" width="5" height="2" fill="#0000ff"/>
<rect x="558" y="434.8" width="5" height="2" fill="#0000ff"/>
<rect x="568" y="427" width="5" height="2" fill="#0000ff"/>
<rect x="578" y="427" width="5" height="2" fill="#0000ff"/>
<rect x="587" y="427" width="5" height="2" fill="#0000ff"/>
<rect x="597" y="427" width="5" height="2" fill="#0000ff"/>
<rect x="607" y="425.7" width="5" height="2" fill="#0000ff"/>
<rect x="616" y="424.7" width="5" height="2" fill="#0000ff"/>
<rect x="626" y="423.2" width="5" height="2" fill="#0000ff"/>
<rect x="635" y="420" width="5" height="2" fill="#0000ff"/>
<rect x="645" y="411.6" width="5" height="2" fill="#0000ff"/>
<rect x="655" y="404.9" width="5" height="2" fill="#0000ff"/>
<rect x="664" y="400.7" width="5" height="2" fill="#0000ff"/>
<rect x="674" y="397.8" width="5" height="2" fill="#0000ff"/>
<rect x="683" y="397.8" width="5" height="2" fill="#0000ff"/>
<rect x="693" y="390" width="5" height="2" fill="#0000ff"/>
<rect x="703" y="386" width="5" height="2" fill="#0000ff"/>
<rect x="847" y="384.8" width="5" height="2" fill="#0000ff"/>
<rect x="856" y="378" width="5" height="2" fill="#0000ff"/>
<rect x="866" y="372.8" width="5" height="2" fill="#0000ff"/>
<rect x="876" y="370" width="5" height="2" fill="#0000ff"/>
<rect x="885" y="367.7" width="5" height="2" fill="#0000ff"/>
<rect x="895" y="366.7" width="5" height="2" fill="#0000ff"/>
<rect x="904" y="363" width="5" height="2" fill="#0000ff"/>
<rect x="914" y="363" width="5" height="2" fill="#0000ff"/>
<rect x="924" y="363" width="5" height="2" fill="#0000ff"/>
<rect x="933" y="363" width="5" height="2" fill="#0000ff"/>
<rect x="943" y="363" width="5" height="2" fill="#0000ff"/>
<rect x="952" y="363" width="5" height="2" fill="#0000ff"/>
<rect x="962" y="360.8" width="5" height="2" fill="#0000ff"/>
<rect x="972" y="353" width="5" height="2" fill="#0000ff"/>
<rect x="981" y="337" width="5" height="2" fill="#0000ff"/>
<rect x="991" y="321.7" width="5" height="2" fill="#0000ff"/>
<rect x="1000" y="305" width="5" height="2" fill="#0000ff"/>
<rect x="1010" y="285" width="5" height="2" fill="#0000ff"/>
<rect x="1020" y="264" width="5" height="2" fill="#0000ff"/>
<rect x="1029" y="240.8" width="5" height="2" fill="#0000ff"/>
<rect x="1039" y="224" width="5" height="2" fill="#0000ff"/>
<rect x="1048" y="207.7" width="5" height="2" fill="#0000ff"/>
<rect x="1058" y="193.8" width="5" height="2" fill="#0000ff"/>
<rect x="1068" y="181.5" width="5" height="2" fill="#0000ff"/>
<rect x="1077" y="164.5" width="5" height="2" fill="#0000ff"/>
<rect x="1087" y="155.8" width="5" height="2" fill="#0000ff"/>
<rect x="1096" y="147.8" width="5" height="2" fill="#0000ff"/>
<rect x="1106" y="138.9" width="5" height="2" fill="#0000ff"/>
</g>
<polyline points="19,466 980,466 980,454 989.5,454 989.5,451 999,451 999,438 1008,438 1008,417 1028,417 1028,396 1037,396 1037,394 1056,394 1056,391 1066,391 1066,382 1076,382 1076,366 1114,366" fill="none" stroke="#ffff00" stroke-width="6" stroke-linejoin="miter" shape-rendering="crispEdges"/>
<g shape-rendering="crispEdges">
<rect x="21" y="351" width="5" height="2" fill="#00ffff"/>
<rect x="21" y="153" width="5" height="2" fill="#00ff00"/>
<rect x="30" y="351" width="5" height="2" fill="#00ffff"/>
<rect x="30" y="153" width="5" height="2" fill="#00ff00"/>
<rect x="40" y="351" width="5" height="2" fill="#00ffff"/>
<rect x="40" y="153" width="5" height="2" fill="#00ff00"/>
<rect x="49" y="351" width="5" height="2" fill="#00ffff"/>
<rect x="49" y="153" width="5" height="2" fill="#00ff00"/>
<rect x="59" y="351" width="5" height="2" fill="#00ffff"/>
<rect x="59" y="153" width="5" height="2" fill="#00ff00"/>
<rect x="69" y="351" width="5" height="2" fill="#00ffff"/>
<rect x="69" y="153" width="5" height="2" fill="#00ff00"/>
<rect x="78" y="351" width="5" height="2" fill="#00ffff"/>
<rect x="78" y="153" width="5" height="2" fill="#00ff00"/>
<rect x="88" y="351" width="5" height="2" fill="#00ffff"/>
<rect x="88" y="153" width="5" height="2" fill="#00ff00"/>
<rect x="97" y="351" width="5" height="2" fill="#00ffff"/>
<rect x="97" y="153" width="5" height="2" fill="#00ff00"/>
<rect x="107" y="351" width="5" height="2" fill="#00ffff"/>
<rect x="107" y="153" width="5" height="2" fill="#00ff00"/>
<rect x="117" y="351" width="5" height="2" fill="#00ffff"/>
<rect x="117" y="153" width="5" height="2" fill="#00ff00"/>
<rect x="126" y="351" width="5" height="2" fill="#00ffff"/>
<rect x="126" y="153" width="5" height="2" fill="#00ff00"/>
<rect x="136" y="351" width="5" height="2" fill="#00ffff"/>
<rect x="136" y="153" width="5" height="2" fill="#00ff00"/>
<rect x="145" y="351" width="5" height="2" fill="#00ffff"/>
<rect x="145" y="153" width="5" height="2" fill="#00ff00"/>
<rect x="155" y="351" width="5" height="2" fill="#00ffff"/>
<rect x="155" y="153" width="5" height="2" fill="#00ff00"/>
<rect x="165" y="351" width="5" height="2" fill="#00ffff"/>
<rect x="165" y="153" width="5" height="2" fill="#00ff00"/>
<rect x="174" y="351" width="5" height="2" fill="#00ffff"/>
<rect x="174" y="153" width="5" height="2" fill="#00ff00"/>
<rect x="184" y="351" width="5" height="2" fill="#00ffff"/>
<rect x="184" y="153" width="5" height="2" fill="#00ff00"/>
<rect x="193" y="351" width="5" height="2" fill="#00ffff"/>
<rect x="193" y="153" width="5" height="2" fill="#00ff00"/>
<rect x="203" y="351" width="5" height="2" fill="#00ffff"/>
<rect x="203" y="153" width="5" height="2" fill="#00ff00"/>
<rect x="213" y="351" width="5" height="2" fill="#00ffff"/>
<rect x="213" y="153" width="5" height="2" fill="#00ff00"/>
<rect x="222" y="351" width="5" height="2" fill="#00ffff"/>
<rect x="222" y="153" width="5" height="2" fill="#00ff00"/>
<rect x="232" y="351" width="5" height="2" fill="#00ffff"/>
<rect x="232" y="153" width="5" height="2" fill="#00ff00"/>
<rect x="241" y="351" width="5" height="2" fill="#00ffff"/>
<rect x="241" y="153" width="5" height="2" fill="#00ff00"/>
<rect x="251" y="351" width="5" height="2" fill="#00ffff"/>
<rect x="251" y="153" width="5" height="2" fill="#00ff00"/>
<rect x="261" y="351" width="5" height="2" fill="#00ffff"/>
<rect x="261" y="153" width="5" height="2" fill="#00ff00"/>
<rect x="270" y="351" width="5" height="2" fill="#00ffff"/>
<rect x="270" y="153" width="5" height="2" fill="#00ff00"/>
<rect x="280" y="351" width="5" height="2" fill="#00ffff"/>
<rect x="280" y="153" width="5" height="2" fill="#00ff00"/>
<rect x="290" y="351" width="5" height="2" fill="#00ffff"/>
<rect x="290" y="153" width="5" height="2" fill="#00ff00"/>
<rect x="299" y="351" width="5" height="2" fill="#00ffff"/>
<rect x="299" y="153" width="5" height="2" fill="#00ff00"/>
<rect x="309" y="351" width="5" height="2" fill="#00ffff"/>
<rect x="309" y="153" width="5" height="2" fill="#00ff00"/>
<rect x="318" y="351" width="5" height="2" fill="#00ffff"/>
<rect x="318" y="153" width="5" height="2" fill="#00ff00"/>
<rect x="328" y="351" width="5" height="2" fill="#00ffff"/>
<rect x="328" y="153" width="5" height="2" fill="#00ff00"/>
<rect x="338" y="351" width="5" height="2" fill="#00ffff"/>
<rect x="338" y="153" width="5" height="2" fill="#00ff00"/>
<rect x="347" y="351" width="5" height="2" fill="#00ffff"/>
<rect x="347" y="153" width="5" height="2" fill="#00ff00"/>
<rect x="357" y="351" width="5" height="2" fill="#00ffff"/>
<rect x="357" y="153" width="5" height="2" fill="#00ff00"/>
<rect x="366" y="351" width="5" height="2" fill="#00ffff"/>
<rect x="366" y="153" width="5" height="2" fill="#00ff00"/>
<rect x="376" y="351" width="5" height="2" fill="#00ffff"/>
<rect x="376" y="153" width="5" height="2" fill="#00ff00"/>
<rect x="386" y="351" width="5" height="2" fill="#00ffff"/>
<rect x="386" y="153" width="5" height="2" fill="#00ff00"/>
<rect x="395" y="351" width="5" height="2" fill="#00ffff"/>
<rect x="395" y="153" width="5" height="2" fill="#00ff00"/>
<rect x="405" y="351" width="5" height="2" fill="#00ffff"/>
<rect x="405" y="153" width="5" height="2" fill="#00ff00"/>
<rect x="414" y="351" width="5" height="2" fill="#00ffff"/>
<rect x="414" y="153" width="5" height="2" fill="#00ff00"/>
<rect x="424" y="351" width="5" height="2" fill="#00ffff"/>
<rect x="424" y="153" width="5" height="2" fill="#00ff00"/>
<rect x="434" y="351" width="5" height="2" fill="#00ffff"/>
<rect x="434" y="153" width="5" height="2" fill="#00ff00"/>
<rect x="443" y="351" width="5" height="2" fill="#00ffff"/>
<rect x="443" y="153" width="5" height="2" fill="#00ff00"/>
<rect x="453" y="351" width="5" height="2" fill="#00ffff"/>
<rect x="453" y="153" width="5" height="2" fill="#00ff00"/>
<rect x="462" y="351" width="5" height="2" fill="#00ffff"/>
<rect x="462" y="153" width="5" height="2" fill="#00ff00"/>
<rect x="472" y="351" width="5" height="2" fill="#00ffff"/>
<rect x="472" y="153" width="5" height="2" fill="#00ff00"/>
<rect x="482" y="351" width="5" height="2" fill="#00ffff"/>
<rect x="482" y="153" width="5" height="2" fill="#00ff00"/>
<rect x="491" y="351" width="5" height="2" fill="#00ffff"/>
<rect x="491" y="153" width="5" height="2" fill="#00ff00"/>
<rect x="501" y="351" width="5" height="2" fill="#00ffff"/>
<rect x="501" y="153" width="5" height="2" fill="#00ff00"/>
<rect x="510" y="351" width="5" height="2" fill="#00ffff"/>
<rect x="510" y="153" width="5" height="2" fill="#00ff00"/>
<rect x="520" y="351" width="5" height="2" fill="#00ffff"/>
<rect x="520" y="153" width="5" height="2" fill="#00ff00"/>
<rect x="530" y="351" width="5" height="2" fill="#00ffff"/>
<rect x="530" y="153" width="5" height="2" fill="#00ff00"/>
<rect x="539" y="351" width="5" height="2" fill="#00ffff"/>
<rect x="539" y="153" width="5" height="2" fill="#00ff00"/>
<rect x="549" y="351" width="5" height="2" fill="#00ffff"/>
<rect x="549" y="153" width="5" height="2" fill="#00ff00"/>
<rect x="558" y="351" width="5" height="2" fill="#00ffff"/>
<rect x="558" y="153" width="5" height="2" fill="#00ff00"/>
<rect x="568" y="351" width="5" height="2" fill="#00ffff"/>
<rect x="568" y="153" width="5" height="2" fill="#00ff00"/>
<rect x="578" y="351" width="5" height="2" fill="#00ffff"/>
<rect x="578" y="153" width="5" height="2" fill="#00ff00"/>
<rect x="587" y="351" width="5" height="2" fill="#00ffff"/>
<rect x="587" y="153" width="5" height="2" fill="#00ff00"/>
<rect x="597" y="351" width="5" height="2" fill="#00ffff"/>
<rect x="597" y="153" width="5" height="2" fill="#00ff00"/>
<rect x="607" y="351" width="5" height="2" fill="#00ffff"/>
<rect x="607" y="153" width="5" height="2" fill="#00ff00"/>
<rect x="616" y="351" width="5" height="2" fill="#00ffff"/>
<rect x="616" y="153" width="5" height="2" fill="#00ff00"/>
<rect x="626" y="351" width="5" height="2" fill="#00ffff"/>
<rect x="626" y="153" width="5" height="2" fill="#00ff00"/>
<rect x="635" y="351" width="5" height="2" fill="#00ffff"/>
<rect x="635" y="153" width="5" height="2" fill="#00ff00"/>
<rect x="645" y="351" width="5" height="2" fill="#00ffff"/>
<rect x="645" y="153" width="5" height="2" fill="#00ff00"/>
<rect x="655" y="351" width="5" height="2" fill="#00ffff"/>
<rect x="655" y="153" width="5" height="2" fill="#00ff00"/>
<rect x="664" y="351" width="5" height="2" fill="#00ffff"/>
<rect x="664" y="153" width="5" height="2" fill="#00ff00"/>
<rect x="674" y="351" width="5" height="2" fill="#00ffff"/>
<rect x="674" y="153" width="5" height="2" fill="#00ff00"/>
<rect x="683" y="351" width="5" height="2" fill="#00ffff"/>
<rect x="683" y="153" width="5" height="2" fill="#00ff00"/>
<rect x="693" y="351" width="5" height="2" fill="#00ffff"/>
<rect x="693" y="153" width="5" height="2" fill="#00ff00"/>
<rect x="703" y="351" width="5" height="2" fill="#00ffff"/>
<rect x="703" y="153" width="5" height="2" fill="#00ff00"/>
<rect x="712" y="351" width="5" height="2" fill="#00ffff"/>
<rect x="712" y="153" width="5" height="2" fill="#00ff00"/>
<rect x="722" y="351" width="5" height="2" fill="#00ffff"/>
<rect x="722" y="153" width="5" height="2" fill="#00ff00"/>
<rect x="731" y="351" width="5" height="2" fill="#00ffff"/>
<rect x="731" y="153" width="5" height="2" fill="#00ff00"/>
<rect x="741" y="351" width="5" height="2" fill="#00ffff"/>
<rect x="741" y="153" width="5" height="2" fill="#00ff00"/>
<rect x="751" y="351" width="5" height="2" fill="#00ffff"/>
<rect x="751" y="153" width="5" height="2" fill="#00ff00"/>
<rect x="760" y="351" width="5" height="2" fill="#00ffff"/>
<rect x="760" y="153" width="5" height="2" fill="#00ff00"/>
<rect x="770" y="351" width="5" height="2" fill="#00ffff"/>
<rect x="770" y="153" width="5" height="2" fill="#00ff00"/>
<rect x="779" y="351" width="5" height="2" fill="#00ffff"/>
<rect x="779" y="153" width="5" height="2" fill="#00ff00"/>
<rect x="789" y="351" width="5" height="2" fill="#00ffff"/>
<rect x="789" y="153" width="5" height="2" fill="#00ff00"/>
<rect x="799" y="351" width="5" height="2" fill="#00ffff"/>
<rect x="799" y="153" width="5" height="2" fill="#00ff00"/>
<rect x="808" y="351" width="5" height="2" fill="#00ffff"/>
<rect x="808" y="153" width="5" height="2" fill="#00ff00"/>
<rect x="818" y="351" width="5" height="2" fill="#00ffff"/>
<rect x="818" y="153" width="5" height="2" fill="#00ff00"/>
<rect x="827" y="351" width="5" height="2" fill="#00ffff"/>
<rect x="827" y="153" width="5" height="2" fill="#00ff00"/>
<rect x="837" y="351" width="5" height="2" fill="#00ffff"/>
<rect x="837" y="153" width="5" height="2" fill="#00ff00"/>
<rect x="847" y="351" width="5" height="2" fill="#00ffff"/>
<rect x="847" y="153" width="5" height="2" fill="#00ff00"/>
<rect x="856" y="351" width="5" height="2" fill="#00ffff"/>
<rect x="856" y="153" width="5" height="2" fill="#00ff00"/>
<rect x="866" y="351" width="5" height="2" fill="#00ffff"/>
<rect x="866" y="153" width="5" height="2" fill="#00ff00"/>
<rect x="876" y="351" width="5" height="2" fill="#00ffff"/>
<rect x="876" y="153" width="5" height="2" fill="#00ff00"/>
<rect x="885" y="351" width="5" height="2" fill="#00ffff"/>
<rect x="885" y="153" width="5" height="2" fill="#00ff00"/>
<rect x="895" y="351" width="5" height="2" fill="#00ffff"/>
<rect x="895" y="153" width="5" height="2" fill="#00ff00"/>
<rect x="904" y="351" width="5" height="2" fill="#00ffff"/>
<rect x="904" y="153" width="5" height="2" fill="#00ff00"/>
<rect x="914" y="351" width="5" height="2" fill="#00ffff"/>
<rect x="914" y="153" width="5" height="2" fill="#00ff00"/>
<rect x="924" y="351" width="5" height="2" fill="#00ffff"/>
<rect x="924" y="153" width="5" height="2" fill="#00ff00"/>
<rect x="933" y="351" width="5" height="2" fill="#00ffff"/>
<rect x="933" y="153" width="5" height="2" fill="#00ff00"/>
<rect x="943" y="351" width="5" height="2" fill="#00ffff"/>
<rect x="943" y="153" width="5" height="2" fill="#00ff00"/>
<rect x="952" y="351" width="5" height="2" fill="#00ffff"/>
<rect x="952" y="153" width="5" height="2" fill="#00ff00"/>
<rect x="962" y="351" width="5" height="2" fill="#00ffff"/>
<rect x="962" y="153" width="5" height="2" fill="#00ff00"/>
<rect x="972" y="351" width="5" height="2" fill="#00ffff"/>
<rect x="972" y="153" width="5" height="2" fill="#00ff00"/>
<rect x="981" y="351" width="5" height="2" fill="#00ffff"/>
<rect x="981" y="153" width="5" height="2" fill="#00ff00"/>
<rect x="991" y="351" width="5" height="2" fill="#00ffff"/>
<rect x="991" y="153" width="5" height="2" fill="#00ff00"/>
<rect x="1000" y="351" width="5" height="2" fill="#00ffff"/>
<rect x="1000" y="153" width="5" height="2" fill="#00ff00"/>
<rect x="1010" y="351" width="5" height="2" fill="#00ffff"/>
<rect x="1010" y="153" width="5" height="2" fill="#00ff00"/>
<rect x="1020" y="351" width="5" height="2" fill="#00ffff"/>
<rect x="1020" y="153" width="5" height="2" fill="#00ff00"/>
<rect x="1029" y="351" width="5" height="2" fill="#00ffff"/>
<rect x="1029" y="153" width="5" height="2" fill="#00ff00"/>
<rect x="1039" y="351" width="5" height="2" fill="#00ffff"/>
<rect x="1039" y="153" width="5" height="2" fill="#00ff00"/>
<rect x="1048" y="351" width="5" height="2" fill="#00ffff"/>
<rect x="1048" y="153" width="5" height="2" fill="#00ff00"/>
<rect x="1058" y="351" width="5" height="2" fill="#00ffff"/>
<rect x="1058" y="153" width="5" height="2" fill="#00ff00"/>
<rect x="1068" y="351" width="5" height="2" fill="#00ffff"/>
<rect x="1068" y="153" width="5" height="2" fill="#00ff00"/>
<rect x="1077" y="351" width="5" height="2" fill="#00ffff"/>
<rect x="1077" y="153" width="5" height="2" fill="#00ff00"/>
<rect x="1087" y="351" width="5" height="2" fill="#00ffff"/>
<rect x="1087" y="153" width="5" height="2" fill="#00ff00"/>
<rect x="1096" y="351" width="5" height="2" fill="#00ffff"/>
<rect x="1096" y="153" width="5" height="2" fill="#00ff00"/>
<rect x="1106" y="351" width="5" height="2" fill="#00ffff"/>
<rect x="1106" y="153" width="5" height="2" fill="#00ff00"/>
</g>
<polyline points="23.5,454.9 32.5,448.5 42.5,442.1 51.5,441" fill="none" stroke="#0000ff" stroke-width="2.1" stroke-linejoin="round" stroke-linecap="round"/>
<polyline points="51.5,441 61.5,441.1 71.5,445.6 80.5,449.1 90.5,452.5 99.5,456.7 109.5,463.8" fill="none" stroke="#ff0000" stroke-width="2.1" stroke-linejoin="round" stroke-linecap="round"/>
<polyline points="109.5,463.8 119.5,458.2 128.5,442.5 138.5,428.3 147.5,417.5 157.5,407.5 167.5,398.8 176.5,392.8 186.5,383.8 195.5,377.7 205.5,376.8" fill="none" stroke="#0000ff" stroke-width="2.1" stroke-linejoin="round" stroke-linecap="round"/>
<polyline points="205.5,376.8 215.5,378.1 224.5,379.4" fill="none" stroke="#ff0000" stroke-width="2.1" stroke-linejoin="round" stroke-linecap="round"/>
<polyline points="224.5,379.4 234.5,377.1 243.5,371.4 253.5,367.6 263.5,362.8" fill="none" stroke="#0000ff" stroke-width="2.1" stroke-linejoin="round" stroke-linecap="round"/>
<polyline points="263.5,362.8 272.5,362.9" fill="none" stroke="#ff0000" stroke-width="2.1" stroke-linejoin="round" stroke-linecap="round"/>
<polyline points="272.5,362.9 282.5,361.4" fill="none" stroke="#0000ff" stroke-width="2.1" stroke-linejoin="round" stroke-linecap="round"/>
<polyline points="282.5,361.4 292.5,365.2 301.5,367.7 311.5,368.7" fill="none" stroke="#ff0000" stroke-width="2.1" stroke-linejoin="round" stroke-linecap="round"/>
<polyline points="311.5,368.7 320.5,364.3" fill="none" stroke="#0000ff" stroke-width="2.1" stroke-linejoin="round" stroke-linecap="round"/>
<polyline points="320.5,364.3 330.5,365.8 340.5,369 349.5,375.7 359.5,383.3 368.5,391 378.5,395.7 388.5,401.3 397.5,405.7 407.5,409 416.5,414.9 426.5,421.9 436.5,427.6 445.5,428" fill="none" stroke="#ff0000" stroke-width="2.1" stroke-linejoin="round" stroke-linecap="round"/>
<polyline points="445.5,428 455.5,426.7 464.5,423.4 474.5,422.9" fill="none" stroke="#0000ff" stroke-width="2.1" stroke-linejoin="round" stroke-linecap="round"/>
<polyline points="474.5,422.9 484.5,424.8 493.5,426.1" fill="none" stroke="#ff0000" stroke-width="2.1" stroke-linejoin="round" stroke-linecap="round"/>
<polyline points="493.5,426.1 503.5,425.7 512.5,422.9 522.5,418.1 532.5,413.3 541.5,409.5 551.5,402.9 560.5,395.2 570.5,388.6 580.5,387" fill="none" stroke="#0000ff" stroke-width="2.1" stroke-linejoin="round" stroke-linecap="round"/>
<polyline points="580.5,387 589.5,389.9 599.5,391.4 609.5,391.8" fill="none" stroke="#ff0000" stroke-width="2.1" stroke-linejoin="round" stroke-linecap="round"/>
<polyline points="609.5,391.8 618.5,391.4 628.5,389.1 637.5,383.8 647.5,377.7 657.5,370.2 666.5,364.5 676.5,362.2 685.5,359.8 695.5,353.1 705.5,348.7" fill="none" stroke="#0000ff" stroke-width="2.1" stroke-linejoin="round" stroke-linecap="round"/>
<polyline points="705.5,348.7 714.5,353.7 724.5,359.8 733.5,364.5 743.5,366.8" fill="none" stroke="#ff0000" stroke-width="2.1" stroke-linejoin="round" stroke-linecap="round"/>
<polyline points="743.5,366.8 753.5,366.7" fill="none" stroke="#0000ff" stroke-width="2.1" stroke-linejoin="round" stroke-linecap="round"/>
<polyline points="753.5,366.7 762.5,368.7 772.5,370.6 781.5,372.3" fill="none" stroke="#ff0000" stroke-width="2.1" stroke-linejoin="round" stroke-linecap="round"/>
<polyline points="781.5,372.3 791.5,371 801.5,370 810.5,369.6 820.5,366.2 829.5,359.5 839.5,354.4 849.5,350.6 858.5,344.3 868.5,339 878.5,335.7 887.5,334.8 897.5,334.7 906.5,331.7" fill="none" stroke="#0000ff" stroke-width="2.1" stroke-linejoin="round" stroke-linecap="round"/>
<polyline points="906.5,331.7 916.5,333 926.5,334.1 935.5,334.9 945.5,335.5" fill="none" stroke="#ff0000" stroke-width="2.1" stroke-linejoin="round" stroke-linecap="round"/>
<polyline points="945.5,335.5 954.5,335.4 964.5,333 974.5,324 983.5,303.5 993.5,285.5 1002.5,268.5 1012.5,251 1022.5,229.5 1031.5,204.5 1041.5,188.5 1050.5,173.5 1060.5,160 1070.5,147.8 1079.5,131.2 1089.5,120.3 1098.5,112.1 1108.5,105.3" fill="none" stroke="#0000ff" stroke-width="2.1" stroke-linejoin="round" stroke-linecap="round"/>
<rect x="1008" y="151" width="9" height="9" fill="#000" shape-rendering="crispEdges"/><rect x="1010" y="154" width="5" height="2" fill="#00a000" shape-rendering="crispEdges"/>
<rect x="466" y="264" width="222" height="34" fill="#fff" stroke="#008000" stroke-width="2" shape-rendering="crispEdges"/>
<text x="577.1" y="289.4" font-size="24.92" text-anchor="middle" fill="#008000">DAILY PROFIT HIT</text>
<rect x="14" y="494" width="295" height="29" fill="#fff" stroke="#000" stroke-width="2" shape-rendering="crispEdges"/>
<text x="18.2" y="515.9" font-size="20" fill="#000">9/17/19 Total Daily PnL: $575.00</text>
<path d="M1119.2 52.2 H1136 M1126.4 45.2 L1119.4 52.2 L1126.4 59.2" fill="none" stroke="#000" stroke-width="2"/>
<rect x="267" y="31" width="622" height="27" fill="#c4c4c4" shape-rendering="crispEdges"/>
<rect x="268" y="32" width="96" height="25" fill="#008000" shape-rendering="crispEdges"/>
<text x="316" y="50" font-size="15.3" text-anchor="middle" textLength="61.2" lengthAdjust="spacingAndGlyphs" fill="#fff">Long /ON</text>
<rect x="366" y="32" width="96" height="25" fill="#ff0000" shape-rendering="crispEdges"/>
<text x="414" y="50" font-size="15.3" text-anchor="middle" textLength="64" lengthAdjust="spacingAndGlyphs" fill="#fff">Short /ON</text>
<rect x="464" y="32" width="96" height="25" fill="#fff" shape-rendering="crispEdges"/>
<text x="512" y="50" font-size="15.3" text-anchor="middle" textLength="70.4" lengthAdjust="spacingAndGlyphs" fill="#000">AUTO /ON</text>
<rect x="562" y="32" width="119" height="25" fill="#000" shape-rendering="crispEdges"/>
<text x="621.5" y="50" font-size="15.3" text-anchor="middle" textLength="102.5" lengthAdjust="spacingAndGlyphs" fill="#ffff00">Scalp Exit /OFF</text>
<rect x="683" y="32" width="106" height="25" fill="#000" shape-rendering="crispEdges"/>
<text x="736" y="50" font-size="15.3" text-anchor="middle" textLength="88.8" lengthAdjust="spacingAndGlyphs" fill="#fff">PRM Exit /ON</text>
<rect x="791" y="32" width="97" height="25" fill="#ffff00" shape-rendering="crispEdges"/>
<text x="839.5" y="50" font-size="15.3" text-anchor="middle" textLength="79.3" lengthAdjust="spacingAndGlyphs" fill="#000">R-Line /OFF</text>
<text x="12.3" y="547.8" font-size="10.56" fill="#000">TWSTStochastic(NQ 12-19 (3 Min Heiken-Ashi),2000,1)</text>
<text x="12.3" y="675.6" font-size="10.56" fill="#000">© 2019 NinjaTrader, LLC</text>
<g shape-rendering="crispEdges">
<rect x="7" y="654" width="1141" height="4" fill="#ffff00"/>
<rect x="22" y="616.8" width="4" height="39" fill="#1e90ff"/>
<rect x="31" y="619.8" width="4" height="36" fill="#1e90ff"/>
<rect x="41" y="622.3" width="4" height="33.5" fill="#1e90ff"/>
<rect x="50" y="627.2" width="4" height="28.6" fill="#1e90ff"/>
<rect x="60" y="632.2" width="4" height="23.6" fill="#1e90ff"/>
<rect x="70" y="637.2" width="4" height="18.6" fill="#1e90ff"/>
<rect x="79" y="640.9" width="4" height="14.9" fill="#1e90ff"/>
<rect x="89" y="644.6" width="4" height="11.2" fill="#1e90ff"/>
<rect x="98" y="647.8" width="4" height="8" fill="#1e90ff"/>
<rect x="108" y="651.3" width="4" height="4.5" fill="#1e90ff"/>
<rect x="118" y="654.5" width="4" height="1.3" fill="#1e90ff"/>
<rect x="127" y="655.8" width="4" height="0.4" fill="#dc143c"/>
<rect x="137" y="655.8" width="4" height="1.4" fill="#dc143c"/>
<rect x="146" y="655.8" width="4" height="2.4" fill="#dc143c"/>
<rect x="156" y="655.8" width="4" height="2.9" fill="#dc143c"/>
<rect x="166" y="655.8" width="4" height="3.6" fill="#dc143c"/>
<rect x="175" y="655.8" width="4" height="4.4" fill="#dc143c"/>
<rect x="185" y="655.8" width="4" height="3.2" fill="#dc143c"/>
<rect x="194" y="655.8" width="4" height="4.4" fill="#dc143c"/>
<rect x="204" y="655.8" width="4" height="6.6" fill="#dc143c"/>
<rect x="214" y="655.8" width="4" height="8.6" fill="#dc143c"/>
<rect x="223" y="655.8" width="4" height="9.3" fill="#dc143c"/>
<rect x="233" y="655.8" width="4" height="9.3" fill="#dc143c"/>
<rect x="242" y="655.8" width="4" height="9.3" fill="#dc143c"/>
<rect x="252" y="655.8" width="4" height="10.1" fill="#dc143c"/>
<rect x="262" y="655.8" width="4" height="10.1" fill="#dc143c"/>
<rect x="271" y="655.8" width="4" height="12.3" fill="#dc143c"/>
<rect x="281" y="655.8" width="4" height="12.8" fill="#dc143c"/>
<rect x="291" y="655.8" width="4" height="13.6" fill="#dc143c"/>
<rect x="300" y="655.8" width="4" height="14.4" fill="#dc143c"/>
<rect x="310" y="655.8" width="4" height="15.5" fill="#dc143c"/>
<rect x="319" y="655.8" width="4" height="14.1" fill="#dc143c"/>
<rect x="329" y="655.8" width="4" height="14.1" fill="#dc143c"/>
<rect x="339" y="655.8" width="4" height="14.5" fill="#dc143c"/>
<rect x="348" y="655.8" width="4" height="15.5" fill="#dc143c"/>
<rect x="358" y="655.8" width="4" height="16.5" fill="#dc143c"/>
<rect x="367" y="655.8" width="4" height="17.5" fill="#dc143c"/>
<rect x="377" y="655.8" width="4" height="18" fill="#dc143c"/>
<rect x="387" y="655.8" width="4" height="18" fill="#dc143c"/>
<rect x="396" y="655.8" width="4" height="18.5" fill="#dc143c"/>
<rect x="406" y="655.8" width="4" height="19.3" fill="#dc143c"/>
<rect x="415" y="655.8" width="4" height="19.5" fill="#dc143c"/>
<rect x="425" y="655.8" width="4" height="19.5" fill="#dc143c"/>
<rect x="435" y="655.8" width="4" height="18.5" fill="#dc143c"/>
<rect x="444" y="655.8" width="4" height="17.5" fill="#dc143c"/>
<rect x="454" y="655.8" width="4" height="16.5" fill="#dc143c"/>
<rect x="463" y="655.8" width="4" height="15.5" fill="#dc143c"/>
<rect x="473" y="655.8" width="4" height="14.5" fill="#dc143c"/>
<rect x="483" y="655.8" width="4" height="13.1" fill="#dc143c"/>
<rect x="492" y="655.8" width="4" height="9.8" fill="#dc143c"/>
<rect x="502" y="655.8" width="4" height="7.9" fill="#dc143c"/>
<rect x="511" y="655.8" width="4" height="4.9" fill="#dc143c"/>
<rect x="521" y="655.8" width="4" height="1.2" fill="#dc143c"/>
<rect x="531" y="653.3" width="4" height="2.5" fill="#1e90ff"/>
<rect x="540" y="649.5" width="4" height="6.3" fill="#1e90ff"/>
<rect x="550" y="645.8" width="4" height="10" fill="#1e90ff"/>
<rect x="559" y="641.4" width="4" height="14.4" fill="#1e90ff"/>
<rect x="569" y="637.2" width="4" height="18.6" fill="#1e90ff"/>
<rect x="579" y="634.7" width="4" height="21.1" fill="#1e90ff"/>
<rect x="588" y="633.9" width="4" height="21.9" fill="#1e90ff"/>
<rect x="598" y="633.3" width="4" height="22.5" fill="#1e90ff"/>
<rect x="608" y="632.5" width="4" height="23.3" fill="#1e90ff"/>
<rect x="617" y="631.5" width="4" height="24.3" fill="#1e90ff"/>
<rect x="627" y="629.5" width="4" height="26.3" fill="#1e90ff"/>
<rect x="636" y="627.1" width="4" height="28.7" fill="#1e90ff"/>
<rect x="646" y="623.8" width="4" height="32" fill="#1e90ff"/>
<rect x="656" y="620.9" width="4" height="34.9" fill="#1e90ff"/>
<rect x="665" y="617.9" width="4" height="37.9" fill="#1e90ff"/>
<rect x="675" y="615.9" width="4" height="39.9" fill="#1e90ff"/>
<rect x="684" y="614.7" width="4" height="41.1" fill="#1e90ff"/>
<rect x="694" y="613.7" width="4" height="42.1" fill="#1e90ff"/>
<rect x="704" y="614.7" width="4" height="41.1" fill="#1e90ff"/>
<rect x="713" y="617.7" width="4" height="38.1" fill="#1e90ff"/>
<rect x="723" y="619.6" width="4" height="36.2" fill="#1e90ff"/>
<rect x="732" y="620.9" width="4" height="34.9" fill="#1e90ff"/>
<rect x="742" y="620.9" width="4" height="34.9" fill="#1e90ff"/>
<rect x="752" y="620.9" width="4" height="34.9" fill="#1e90ff"/>
<rect x="761" y="622.9" width="4" height="32.9" fill="#1e90ff"/>
<rect x="771" y="624.6" width="4" height="31.2" fill="#1e90ff"/>
<rect x="780" y="625.1" width="4" height="30.7" fill="#1e90ff"/>
<rect x="790" y="625.8" width="4" height="30" fill="#1e90ff"/>
<rect x="800" y="627.8" width="4" height="28" fill="#1e90ff"/>
<rect x="809" y="630.8" width="4" height="25" fill="#1e90ff"/>
<rect x="819" y="632" width="4" height="23.8" fill="#1e90ff"/>
<rect x="828" y="632" width="4" height="23.8" fill="#1e90ff"/>
<rect x="838" y="633.5" width="4" height="22.3" fill="#1e90ff"/>
<rect x="848" y="633.5" width="4" height="22.3" fill="#1e90ff"/>
<rect x="857" y="633.5" width="4" height="22.3" fill="#1e90ff"/>
<rect x="867" y="633.5" width="4" height="22.3" fill="#1e90ff"/>
<rect x="877" y="633.7" width="4" height="22.1" fill="#1e90ff"/>
<rect x="886" y="634.5" width="4" height="21.3" fill="#1e90ff"/>
<rect x="896" y="634.5" width="4" height="21.3" fill="#1e90ff"/>
<rect x="905" y="634.5" width="4" height="21.3" fill="#1e90ff"/>
<rect x="915" y="636.5" width="4" height="19.3" fill="#1e90ff"/>
<rect x="925" y="638.5" width="4" height="17.3" fill="#1e90ff"/>
<rect x="934" y="639.7" width="4" height="16.1" fill="#1e90ff"/>
<rect x="944" y="640.5" width="4" height="15.3" fill="#1e90ff"/>
<rect x="953" y="639.7" width="4" height="16.1" fill="#1e90ff"/>
<rect x="963" y="637" width="4" height="18.8" fill="#1e90ff"/>
<rect x="973" y="633.5" width="4" height="22.3" fill="#1e90ff"/>
<rect x="982" y="627.3" width="4" height="28.5" fill="#1e90ff"/>
<rect x="992" y="621.2" width="4" height="34.6" fill="#1e90ff"/>
<rect x="1001" y="614.2" width="4" height="41.6" fill="#1e90ff"/>
<rect x="1011" y="606.3" width="4" height="49.5" fill="#1e90ff"/>
<rect x="1021" y="598.1" width="4" height="57.7" fill="#1e90ff"/>
<rect x="1030" y="588.2" width="4" height="67.6" fill="#1e90ff"/>
<rect x="1040" y="581.5" width="4" height="74.3" fill="#1e90ff"/>
<rect x="1049" y="574.6" width="4" height="81.2" fill="#1e90ff"/>
<rect x="1059" y="567.2" width="4" height="88.6" fill="#1e90ff"/>
<rect x="1069" y="561" width="4" height="94.8" fill="#1e90ff"/>
<rect x="1078" y="552.8" width="4" height="103" fill="#1e90ff"/>
<rect x="1088" y="548.1" width="4" height="107.7" fill="#1e90ff"/>
<rect x="1097" y="544.9" width="4" height="110.9" fill="#1e90ff"/>
<rect x="1107" y="541.1" width="4" height="114.7" fill="#1e90ff"/>
</g>
<polyline points="24,616.8 33,619.8 43,622.3 52,627.2 62,632.2 72,637.2 81,640.9 91,644.6 100,647.8 110,651.3 120,654.5 129,656.2 139,657.2 148,658.2 158,658.7 168,659.4 177,660.2 187,659 196,660.2 206,662.4 216,664.4 225,665.1 235,665.1 244,665.1 254,665.9 264,665.9 273,668.1 283,668.6 293,669.4 302,670.2 312,671.3 321,669.9 331,669.9 341,670.3 350,671.3 360,672.3 369,673.3 379,673.8 389,673.8 398,674.3 408,675.1 417,675.3 427,675.3 437,674.3 446,673.3 456,672.3 465,671.3 475,670.3 485,668.9 494,665.6 504,663.7 513,660.7 523,657 533,653.3 542,649.5 552,645.8 561,641.4 571,637.2 581,634.7 590,633.9 600,633.3 610,632.5 619,631.5 629,629.5 638,627.1 648,623.8 658,620.9 667,617.9 677,615.9 686,614.7 696,613.7 706,614.7 715,617.7 725,619.6 734,620.9 744,620.9 754,620.9 763,622.9 773,624.6 782,625.1 792,625.8 802,627.8 811,630.8 821,632 830,632 840,633.5 850,633.5 859,633.5 869,633.5 879,633.7 888,634.5 898,634.5 907,634.5 917,636.5 927,638.5 936,639.7 946,640.5 955,639.7 965,637 975,633.5 984,627.3 994,621.2 1003,614.2 1013,606.3 1023,598.1 1032,588.2 1042,581.5 1051,574.6 1061,567.2 1071,561 1080,552.8 1090,548.1 1099,544.9 1109,541.1" fill="none" stroke="#00ffff" stroke-width="2.7" stroke-linejoin="round" stroke-linecap="butt"/>
<g shape-rendering="crispEdges" fill="#000">
<rect x="1150" y="31" width="1" height="499"/>
<rect x="1150" y="533" width="1" height="154"/>
<rect x="7" y="686" width="1144" height="1"/>
<rect x="42" y="686" width="1" height="6"/>
<rect x="99" y="686" width="1" height="6"/>
<rect x="157" y="686" width="1" height="6"/>
<rect x="215" y="686" width="1" height="6"/>
<rect x="272" y="686" width="1" height="6"/>
<rect x="330" y="686" width="1" height="6"/>
<rect x="388" y="686" width="1" height="6"/>
<rect x="445" y="686" width="1" height="6"/>
<rect x="503" y="686" width="1" height="6"/>
<rect x="560" y="686" width="1" height="6"/>
<rect x="618" y="686" width="1" height="6"/>
<rect x="676" y="686" width="1" height="6"/>
<rect x="733" y="686" width="1" height="6"/>
<rect x="791" y="686" width="1" height="6"/>
<rect x="849" y="686" width="1" height="6"/>
<rect x="906" y="686" width="1" height="6"/>
<rect x="964" y="686" width="1" height="6"/>
<rect x="1022" y="686" width="1" height="6"/>
<rect x="1079" y="686" width="1" height="6"/>
<rect x="1137" y="686" width="1" height="6"/>
<rect x="1151" y="505" width="5" height="1"/>
<rect x="1151" y="462" width="5" height="1"/>
<rect x="1151" y="418" width="5" height="1"/>
<rect x="1151" y="375" width="5" height="1"/>
<rect x="1151" y="331" width="5" height="1"/>
<rect x="1151" y="288" width="5" height="1"/>
<rect x="1151" y="244" width="5" height="1"/>
<rect x="1151" y="200" width="5" height="1"/>
<rect x="1151" y="157" width="5" height="1"/>
<rect x="1151" y="113" width="5" height="1"/>
<rect x="1151" y="70" width="5" height="1"/>
<rect x="1151" y="550" width="5" height="1"/>
<rect x="1151" y="571" width="5" height="1"/>
<rect x="1151" y="592" width="5" height="1"/>
<rect x="1151" y="613" width="5" height="1"/>
<rect x="1151" y="634" width="5" height="1"/>
<rect x="1151" y="655" width="5" height="1"/>
<rect x="1151" y="676" width="5" height="1"/>
</g>
<text x="43" y="708.3" font-size="10.4" text-anchor="middle" fill="#000">10:39</text>
<text x="100" y="708.3" font-size="10.4" text-anchor="middle" fill="#000">10:57</text>
<text x="158" y="708.3" font-size="10.4" text-anchor="middle" fill="#000">11:15</text>
<text x="216" y="708.3" font-size="10.4" text-anchor="middle" fill="#000">11:33</text>
<text x="273" y="708.3" font-size="10.4" text-anchor="middle" fill="#000">11:51</text>
<text x="331" y="708.3" font-size="10.4" text-anchor="middle" fill="#000">12:09</text>
<text x="389" y="708.3" font-size="10.4" text-anchor="middle" fill="#000">12:27</text>
<text x="446" y="708.3" font-size="10.4" text-anchor="middle" fill="#000">12:45</text>
<text x="504" y="708.3" font-size="10.4" text-anchor="middle" fill="#000">13:03</text>
<text x="561" y="708.3" font-size="10.4" text-anchor="middle" fill="#000">13:21</text>
<text x="619" y="708.3" font-size="10.4" text-anchor="middle" fill="#000">13:39</text>
<text x="677" y="708.3" font-size="10.4" text-anchor="middle" fill="#000">13:57</text>
<text x="734" y="708.3" font-size="10.4" text-anchor="middle" fill="#000">14:15</text>
<text x="792" y="708.3" font-size="10.4" text-anchor="middle" fill="#000">14:33</text>
<text x="850" y="708.3" font-size="10.4" text-anchor="middle" fill="#000">14:51</text>
<text x="907" y="708.3" font-size="10.4" text-anchor="middle" fill="#000">15:09</text>
<text x="965" y="708.3" font-size="10.4" text-anchor="middle" fill="#000">15:27</text>
<text x="1023" y="708.3" font-size="10.4" text-anchor="middle" fill="#000">15:45</text>
<text x="1080" y="708.3" font-size="10.4" text-anchor="middle" fill="#000">16:03</text>
<text x="1138" y="708.3" font-size="10.4" text-anchor="middle" fill="#000">16:21</text>
<text x="1159.3" y="510.4" font-size="10.4" fill="#000">7870.00</text>
<text x="1159.3" y="466.85" font-size="10.4" fill="#000">7875.00</text>
<text x="1159.3" y="423.3" font-size="10.4" fill="#000">7880.00</text>
<text x="1159.3" y="379.75" font-size="10.4" fill="#000">7885.00</text>
<text x="1159.3" y="336.2" font-size="10.4" fill="#000">7890.00</text>
<text x="1159.3" y="292.65" font-size="10.4" fill="#000">7895.00</text>
<text x="1159.3" y="249.1" font-size="10.4" fill="#000">7900.00</text>
<text x="1159.3" y="205.55" font-size="10.4" fill="#000">7905.00</text>
<text x="1159.3" y="162" font-size="10.4" fill="#000">7910.00</text>
<text x="1159.3" y="118.45" font-size="10.4" fill="#000">7915.00</text>
<text x="1159.3" y="74.9" font-size="10.4" fill="#000">7920.00</text>
<text x="1159.3" y="554.6" font-size="10.4" fill="#000">0.25</text>
<text x="1159.3" y="575.7" font-size="10.4" fill="#000">0.2</text>
<text x="1159.3" y="596.8" font-size="10.4" fill="#000">0.15</text>
<text x="1159.3" y="617.9" font-size="10.4" fill="#000">0.1</text>
<text x="1159.3" y="639" font-size="10.4" fill="#000">0.05</text>
<text x="1159.3" y="660.1" font-size="10.4" fill="#000">0</text>
<text x="1159.3" y="681.2" font-size="10.4" fill="#000">-0.05</text>
<path d="M1144 104.5 L1150.5 96.7 H1203 V112.3 H1150.5 Z" fill="#0000ff" stroke="#000" stroke-width="1" stroke-linejoin="miter"/>
<text x="1159.3" y="108.75" font-size="10.4" fill="#fff">7916.12</text>
<path d="M1144 98.5 L1150.5 90.7 H1203 V106.3 H1150.5 Z" fill="#000" stroke="#000" stroke-width="1" stroke-linejoin="miter"/>
<text x="1159.3" y="102.75" font-size="10.4" fill="#fff">7916.75</text>
<path d="M1144 139.5 L1150.5 131.7 H1203 V147.3 H1150.5 Z" fill="#0000ff" stroke="#000" stroke-width="1" stroke-linejoin="miter"/>
<text x="1159.3" y="143.75" font-size="10.4" fill="#fff">7912.03</text>
<path d="M1144 153.5 L1150.5 145.7 H1203 V161.3 H1150.5 Z" fill="#00ff00" stroke="#000" stroke-width="1" stroke-linejoin="miter"/>
<text x="1159.3" y="157.75" font-size="10.4" fill="#000">7910.50</text>
<path d="M1144 352 L1150.5 344.2 H1203 V359.8 H1150.5 Z" fill="#00ffff" stroke="#000" stroke-width="1" stroke-linejoin="miter"/>
<text x="1159.3" y="356.25" font-size="10.4" fill="#000">7887.75</text>
<path d="M1144 366 L1150.5 358.2 H1203 V373.8 H1150.5 Z" fill="#ffff00" stroke="#000" stroke-width="1" stroke-linejoin="miter"/>
<text x="1159.3" y="370.25" font-size="10.4" fill="#000">7886.13</text>
<path d="M1144 540.4 L1150.5 532.6 H1203 V548.2 H1150.5 Z" fill="#00ffff" stroke="#000" stroke-width="1" stroke-linejoin="miter"/>
<text x="1159.3" y="544.65" font-size="10.4" fill="#000">0.275</text>
<g shape-rendering="crispEdges">
<rect x="7" y="716" width="1197" height="14" fill="#333"/>
<rect x="7" y="717" width="10" height="13" fill="#000"/>
<rect x="1194" y="717" width="10" height="13" fill="#000"/>
<rect x="1156.5" y="717.5" width="36" height="12" fill="#3c3c3c" stroke="#555" stroke-width="1"/>
<rect x="1159" y="720" width="1" height="7" fill="#666"/><rect x="1162" y="720" width="1" height="7" fill="#666"/>
</g>
<path d="M11 723.3 L14.5 720 V726.6 Z" fill="#fff"/>
<path d="M1200.5 723.3 L1197 720 V726.6 Z" fill="#fff"/>
</svg></body></html>
